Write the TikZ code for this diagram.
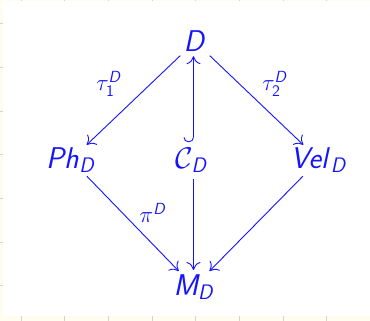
\RequirePackage{fix-cm}
\documentclass[tikz,border=0pt]{standalone}
\usetikzlibrary{arrows.meta}
\DeclareMathAlphabet{\mathsi}{OT1}{cmss}{m}{sl}
\definecolor{cream}{RGB}{255,253,240}
\definecolor{tickc}{RGB}{215,212,200}
\definecolor{dblue}{RGB}{20,20,255}
\begin{document}
\begin{tikzpicture}[x=1pt,y=-1pt,
  obj/.style={text=dblue,inner sep=0pt,font=\fontsize{30}{32}\selectfont},
  lbl/.style={text=dblue,inner sep=0pt,font=\fontsize{23}{25}\selectfont},
  arr/.style={draw=dblue,line width=0.9pt},
  tk/.style={draw=tickc,line width=1pt}]
\tikzset{cmtip/.tip={Computer Modern Rightarrow[length=8pt,width=14pt,line width=0.9pt]}}
\useasboundingbox (0,0) rectangle (370,321);
\fill[cream] (0,0) rectangle (370,321);
\fill[white] (3,1.5) rectangle (370,316);
\foreach \i in {0,...,7} {
  \draw[tk] ({21+43.7*\i},316) -- ({21+43.7*\i},321);
  \draw[tk] ({21+43.7*\i},0) -- ({21+43.7*\i},1.5);
}
\foreach \i in {0,...,6} {
  \draw[tk] (0,{24+43.6*\i}) -- (3,{24+43.6*\i});
}
\node[obj,anchor=base] (D) at (195,52) {$\mathsi{D}$};
\node[obj,anchor=base] (Ph) at (71,168) {$\mathsi{Ph}_{\mathsi{D}}$};
\node[obj,anchor=base] (C) at (192,168) {$\mathcal{C}_{\mathsi{D}}$};
\node[obj,anchor=base] (V) at (319,168) {$\mathsi{Vel}_{\mathsi{D}}$};
\node[obj,anchor=base] (M) at (194,295) {$\mathsi{M}_{\mathsi{D}}$};
\node[lbl] (t1) at (109,84) {$\tau_{\mathsf{1}}^{\mathsi{D}}$};
\node[lbl] (t2) at (275,84) {$\tau_{\mathsf{2}}^{\mathsi{D}}$};
\node[lbl] (p) at (153,213) {$\pi^{\mathsi{D}}$};
\draw[arr,-cmtip,shorten <=5pt,shorten >=3pt] (D) -- (Ph);
\draw[arr,-cmtip,shorten <=5pt,shorten >=3pt] (D) -- (V);
\draw[arr,-cmtip,shorten <=5pt,shorten >=4pt] (Ph) -- (M);
\draw[arr,-cmtip,shorten <=5pt,shorten >=4pt] (V) -- (M);
\draw[arr,-cmtip,shorten <=6pt,shorten >=4pt] (C.south -| 193.5,0) -- (M.north -| 193.5,0);
\draw[arr,{Hooks[arc=180,length=5pt,width=20pt,right]}-cmtip,shorten <=5pt,shorten >=4pt] (C.north -| 193.5,0) -- (D.south -| 193.5,0);
\end{tikzpicture}
\end{document}
